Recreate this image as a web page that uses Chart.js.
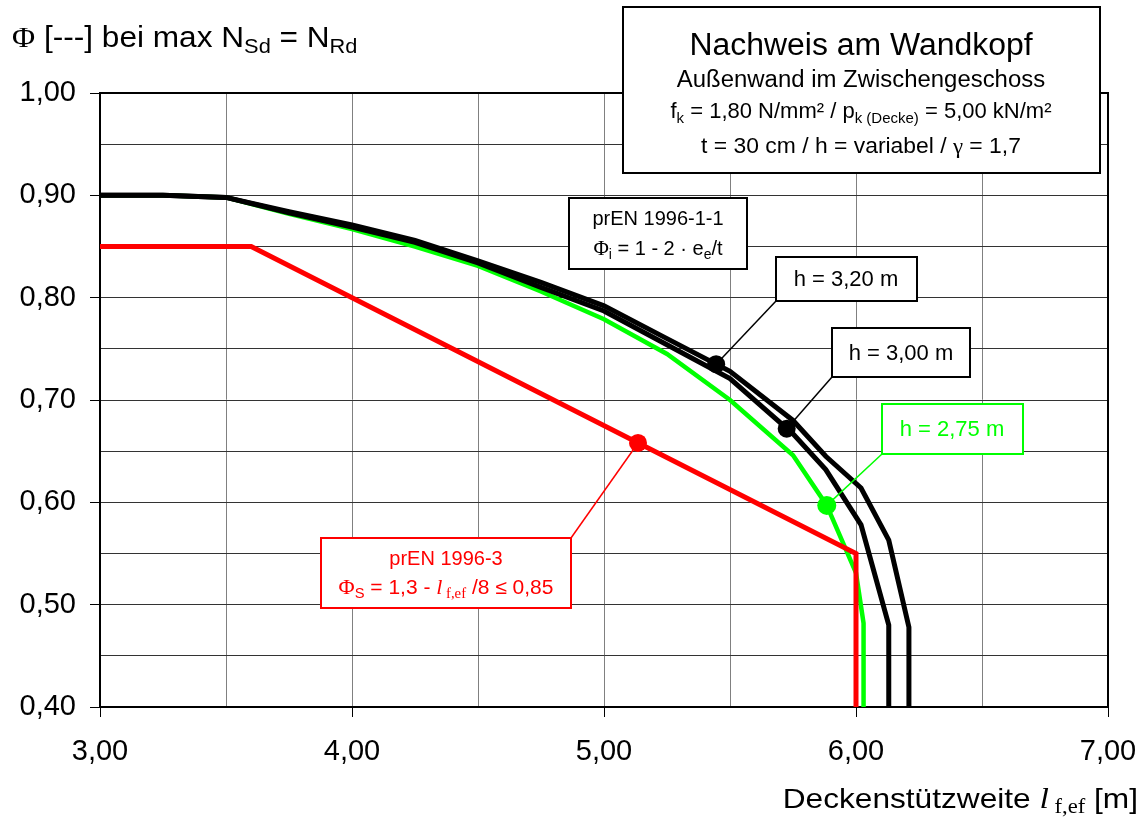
<!DOCTYPE html>
<html>
<head>
<meta charset="utf-8">
<script src="https://cdn.jsdelivr.net/npm/chart.js@4"></script>
<style>
  html, body { margin: 0; padding: 0; background: #fff; }
  #wrap { width: 1144px; height: 823px; position: relative; }
</style>
</head>
<body>
<div id="wrap"><canvas id="chart"></canvas></div>
<script>
// Deckenstützweite l_f,ef [m] and Φ values per wall height
const lenH275 = [3.00, 3.25, 3.50, 3.75, 4.00, 4.25, 4.50, 4.75, 5.00, 5.25, 5.50, 5.75, 5.884, 6.00, 6.03, 6.03]
const phiH275 = [0.900, 0.900, 0.898, 0.882, 0.867, 0.850, 0.831, 0.806, 0.779, 0.745, 0.700, 0.646, 0.597, 0.531, 0.482, 0.400]

const lenH300 = [3.00, 3.25, 3.50, 3.75, 4.00, 4.25, 4.50, 4.75, 5.00, 5.25, 5.50, 5.75, 5.88, 6.02, 6.13, 6.13]
const phiH300 = [0.900, 0.900, 0.898, 0.883, 0.869, 0.854, 0.834, 0.810, 0.787, 0.754, 0.721, 0.667, 0.632, 0.578, 0.480, 0.400]

const lenH320 = [3.00, 3.25, 3.50, 3.75, 4.00, 4.25, 4.50, 4.75, 5.00, 5.25, 5.50, 5.75, 5.88, 6.02, 6.13, 6.21, 6.21]
const phiH320 = [0.900, 0.900, 0.898, 0.884, 0.871, 0.856, 0.836, 0.815, 0.792, 0.760, 0.728, 0.680, 0.645, 0.614, 0.563, 0.478, 0.400]

// prEN 1996-3: Φs = 1,3 - l/8 <= 0,85
const lenEC6 = [3.00, 3.60, 6.00, 6.00]
const phiEC6 = [0.85, 0.85, 0.55, 0.40]

// marked points: h=3,20 / h=3,00 / h=2,75 / prEN 1996-3
const markLen = [5.445, 5.725, 5.884, 5.135]
const markPhi = [0.735, 0.672, 0.597, 0.658]

const xTickLabels = ["3,00", "4,00", "5,00", "6,00", "7,00"]
const yTickLabels = ["0,40", "0,50", "0,60", "0,70", "0,80", "0,90", "1,00"]

const SANS = '"Liberation Sans", Arial, sans-serif'
const SERIF = '"Liberation Serif", "Times New Roman", serif'
const GREEN = "#00ff00"
const RED = "#ff0000"

const pts = (xs, ys) => xs.map((x, i) => ({ x, y: ys[i] }))
const fmt = v => v.toFixed(2).replace(".", ",")

// text helpers
const N = (t, s, font) => ({ t, f: `${s}px ${font || SANS}` })
const NI = (t, s) => ({ t, f: `italic ${s}px ${SERIF}` })
const SUB = (t, s, dy, font) => ({ t, f: `${s}px ${font || SANS}`, dy })

function rich(ctx, segs, x, y, align, color, sx) {
  sx = sx || 1
  let w = 0
  segs.forEach(s => { ctx.font = s.f; s.w = ctx.measureText(s.t).width; w += s.w })
  const x0 = align === "center" ? x - w * sx / 2 : align === "right" ? x - w * sx : x
  ctx.save()
  ctx.translate(x0, y)
  ctx.scale(sx, 1)
  ctx.fillStyle = color
  ctx.textAlign = "left"
  ctx.textBaseline = "alphabetic"
  let cx = 0
  segs.forEach(s => { ctx.font = s.f; ctx.fillText(s.t, cx, s.dy || 0); cx += s.w })
  ctx.restore()
}

function box(ctx, l, t, r, b, color) {
  ctx.fillStyle = "#fff"
  ctx.fillRect(l, t, r - l, b - t)
  ctx.strokeStyle = color
  ctx.lineWidth = 2
  ctx.strokeRect(l, t, r - l, b - t)
}

function leader(ctx, chart, x0, y0, i, color) {
  const xs = chart.scales.x, ys = chart.scales.y
  ctx.strokeStyle = color
  ctx.lineWidth = 1.5
  ctx.beginPath()
  ctx.moveTo(x0, y0)
  ctx.lineTo(xs.getPixelForValue(markLen[i]), ys.getPixelForValue(markPhi[i]))
  ctx.stroke()
}

const frame = {
  id: "frame",
  beforeDatasetsDraw(chart) {
    const { ctx, chartArea: a } = chart
    ctx.save()
    ctx.strokeStyle = "#000"
    ctx.lineWidth = 2
    ctx.strokeRect(a.left, a.top, a.right - a.left, a.bottom - a.top)
    ctx.restore()
  }
}

const notes = {
  id: "notes",
  afterDatasetsDraw(chart) {
    const ctx = chart.ctx
    ctx.save()

    // leader lines (under the boxes)
    leader(ctx, chart, 776, 301, 0, "#000")
    leader(ctx, chart, 832, 377, 1, "#000")
    leader(ctx, chart, 882, 454, 2, GREEN)
    leader(ctx, chart, 571, 538, 3, RED)

    // y axis title
    rich(ctx, [N("Φ", 29, SERIF), N(" [---] bei max N", 29), SUB("Sd", 20, 6), N(" = N", 29), SUB("Rd", 20, 6)], 12, 47, "left", "#000", 1.09)

    // x axis title
    rich(ctx, [N("Deckenstützweite ", 28), NI("l", 30), SUB(" f,ef", 20, 5, SERIF), N(" [m]", 28)], 1138, 808, "right", "#000", 1.13)

    // header box
    box(ctx, 623, 7, 1100, 173, "#000")
    rich(ctx, [N("Nachweis am Wandkopf", 31)], 861, 55, "center", "#000", 1.03)
    rich(ctx, [N("Außenwand im Zwischengeschoss", 23)], 861, 87, "center", "#000", 1.04)
    rich(ctx, [N("f", 22), SUB("k", 15, 5), N(" = 1,80 N/mm² / p", 22), SUB("k (Decke)", 15, 5), N(" = 5,00 kN/m²", 22)], 861, 118, "center", "#000")
    rich(ctx, [N("t = 30 cm / h = variabel / ", 22), N("γ", 22, SERIF), N(" = 1,7", 22)], 861, 153, "center", "#000", 1.04)

    // prEN 1996-1-1
    box(ctx, 569, 198, 747, 269, "#000")
    rich(ctx, [N("prEN 1996-1-1", 20)], 658, 225, "center", "#000")
    rich(ctx, [N("Φ", 21, SERIF), SUB("i", 14, 4), N(" = 1 - 2 · e", 20), SUB("e", 14, 4), N("/t", 20)], 658, 255, "center", "#000")

    // heights
    box(ctx, 776, 257, 917, 301, "#000")
    rich(ctx, [N("h = 3,20 m", 22)], 846, 286, "center", "#000")
    box(ctx, 832, 328, 970, 377, "#000")
    rich(ctx, [N("h = 3,00 m", 22)], 901, 360, "center", "#000")
    box(ctx, 882, 404, 1023, 454, GREEN)
    rich(ctx, [N("h = 2,75 m", 22)], 952, 436, "center", GREEN)

    // prEN 1996-3
    box(ctx, 321, 538, 571, 608, RED)
    rich(ctx, [N("prEN 1996-3", 20)], 446, 565, "center", RED)
    rich(ctx, [N("Φ", 21, SERIF), SUB("S", 14, 4), N(" = 1,3 - ", 20), NI("l", 21), SUB(" f,ef", 14, 4, SERIF), N(" /8 ≤ 0,85", 20)], 446, 594, "center", RED, 1.05)

    ctx.restore()
  }
}

const line = (data, color, order, width) => ({
  type: "line", data, borderColor: color, backgroundColor: color, borderWidth: width || 5,
  pointRadius: 0, tension: 0, fill: false, order
})
const dot = (i, color, r) => ({
  type: "scatter", data: [{ x: markLen[i], y: markPhi[i] }], backgroundColor: color,
  borderWidth: 0, pointRadius: r, order: 0
})

new Chart(document.getElementById("chart"), {
  type: "line",
  data: {
    datasets: [
      dot(0, "#000", 9),
      dot(1, "#000", 9),
      dot(2, GREEN, 9.5),
      dot(3, RED, 9),
      line(pts(lenEC6, phiEC6), RED, 1),
      line(pts(lenH320, phiH320), "#000", 2),
      line(pts(lenH300, phiH300), "#000", 3),
      line(pts(lenH275, phiH275), GREEN, 4, 4.5)
    ]
  },
  options: {
    responsive: true,
    maintainAspectRatio: false,
    animation: false,
    layout: { padding: { left: 0, top: 93, right: 36, bottom: 0 } },
    plugins: { legend: { display: false }, tooltip: { enabled: false } },
    scales: {
      x: {
        type: "linear", min: 3, max: 7,
        afterFit: s => { s.height = 116; s.paddingRight = 36; s.paddingLeft = 0 },
        ticks: {
          stepSize: 0.5, color: "#000", padding: 18, maxRotation: 0, autoSkip: false,
          font: { family: SANS, size: 29 },
          callback: v => xTickLabels.includes(fmt(v)) ? fmt(v) : ""
        },
        grid: {
          color: "#808080", lineWidth: 1, tickLength: 10,
          tickColor: c => xTickLabels.includes(fmt(c.tick.value)) ? "#000" : "rgba(0,0,0,0)"
        },
        border: { color: "#000", width: 2 }
      },
      y: {
        type: "linear", min: 0.4, max: 1.0,
        afterFit: s => { s.width = 100 },
        ticks: {
          stepSize: 0.05, color: "#000", padding: 14, autoSkip: false,
          font: { family: SANS, size: 29 },
          callback: v => yTickLabels.includes(fmt(v)) ? fmt(v) : ""
        },
        grid: {
          color: "#333333", lineWidth: 1, tickLength: 10,
          tickColor: c => yTickLabels.includes(fmt(c.tick.value)) ? "#000" : "rgba(0,0,0,0)"
        },
        border: { color: "#000", width: 2 }
      }
    }
  },
  plugins: [frame, notes]
})
</script>
</body>
</html>
